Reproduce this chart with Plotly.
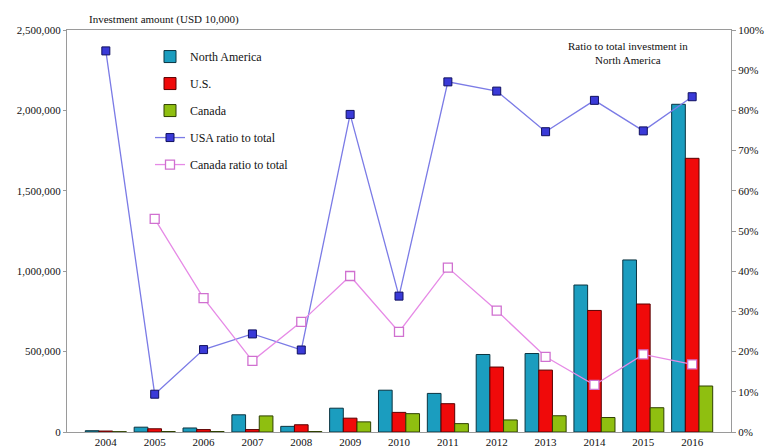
import plotly.graph_objects as go

years = ["2004", "2005", "2006", "2007", "2008", "2009", "2010",
         "2011", "2012", "2013", "2014", "2015", "2016"]

# Investment amount, USD 10,000
north_america = [8000, 30000, 25000, 107000, 35000, 148000, 260000,
                 240000, 482000, 488000, 914000, 1070000, 2038000]
us = [6000, 20000, 15000, 15000, 45000, 86000, 122000,
      176000, 404000, 385000, 756000, 796000, 1702000]
canada = [2000, 3000, 3000, 100000, 3000, 63000, 114000,
          52000, 75000, 101000, 90000, 151000, 286000]

# Share of North American total, percent
usa_ratio = [94.8, 9.4, 20.5, 24.4, 20.4, 79.0, 33.8,
             87.1, 84.8, 74.7, 82.5, 74.9, 83.4]
canada_ratio = [None, 53.0, 33.3, 17.7, 27.4, 38.8, 24.9,
                40.9, 30.2, 18.7, 11.7, 19.3, 16.8]

left_ticks = [0, 500000, 1000000, 1500000, 2000000, 2500000]
left_labels = ["0", "500,000", "1,000,000", "1,500,000", "2,000,000", "2,500,000"]
right_ticks = list(range(0, 101, 10))
right_labels = [f"{v}%" for v in right_ticks]

FONT = "Liberation Serif"
AXIS_COLOR = "#9a9a9a"

fig = go.Figure()

fig.add_trace(go.Bar(
    x=years, y=north_america, name="North America", legendgroup="a",
    marker=dict(color="#1b9dbf", line=dict(color="#0b3440", width=1)),
))
fig.add_trace(go.Bar(
    x=years, y=us, name="U.S.", legendgroup="b",
    marker=dict(color="#f00a0a", line=dict(color="#5a0000", width=1)),
))
fig.add_trace(go.Bar(
    x=years, y=canada, name="Canada", legendgroup="c",
    marker=dict(color="#8fbf10", line=dict(color="#2f4000", width=1)),
))
fig.add_trace(go.Scatter(
    x=years, y=usa_ratio, name="USA ratio to total", legendgroup="d",
    yaxis="y2", mode="lines+markers",
    line=dict(color="#7b7be6", width=1.3),
    marker=dict(symbol="square", size=8, color="#3a3ad8",
                line=dict(color="#101060", width=1)),
))
fig.add_trace(go.Scatter(
    x=years, y=canada_ratio, name="Canada ratio to total", legendgroup="e",
    yaxis="y2", mode="lines+markers",
    line=dict(color="#e68ae6", width=1.3),
    marker=dict(symbol="square", size=9, color="white",
                line=dict(color="#d070d0", width=1.3)),
))

fig.update_layout(
    width=766, height=447,
    margin=dict(l=67, r=35, t=30, b=15),
    paper_bgcolor="white", plot_bgcolor="white",
    font=dict(family=FONT, size=11, color="#111111"),
    barmode="group", bargap=0.16, bargroupgap=0.0,
    showlegend=True,
    legend=dict(
        x=0.125, y=0.97, xanchor="left", yanchor="top",
        bgcolor="rgba(0,0,0,0)", traceorder="grouped",
        tracegroupgap=8, itemwidth=30,
        font=dict(family=FONT, size=12, color="#111111"),
    ),
    xaxis=dict(
        type="category", showline=True, linecolor=AXIS_COLOR, linewidth=1,
        mirror=True, ticks="", showgrid=False, automargin=False,
        tickfont=dict(family=FONT, size=11, color="#111111"),
    ),
    yaxis=dict(
        range=[0, 2500000], tickvals=left_ticks, ticktext=left_labels,
        showline=True, linecolor=AXIS_COLOR, linewidth=1, ticks="outside",
        ticklen=3, tickcolor=AXIS_COLOR, showgrid=False, zeroline=False,
        automargin=False,
        tickfont=dict(family=FONT, size=11, color="#111111"),
    ),
    yaxis2=dict(
        overlaying="y", side="right", range=[0, 100],
        tickvals=right_ticks, ticktext=right_labels,
        showline=True, linecolor=AXIS_COLOR, linewidth=1, ticks="outside",
        ticklen=4, tickcolor=AXIS_COLOR, showgrid=False, zeroline=False,
        automargin=False,
        tickfont=dict(family=FONT, size=11, color="#111111"),
    ),
    annotations=[
        dict(text="Investment amount (USD 10,000)", xref="paper", yref="paper",
             x=0.03, y=1.0, xanchor="left", yanchor="bottom", yshift=2,
             showarrow=False, font=dict(family=FONT, size=11, color="#111111")),
        dict(text="Ratio to total investment in<br>North America",
             xref="paper", yref="paper", x=0.845, y=0.98,
             xanchor="center", yanchor="top", showarrow=False,
             font=dict(family=FONT, size=11, color="#111111")),
    ],
)

fig.write_html("out.html")
